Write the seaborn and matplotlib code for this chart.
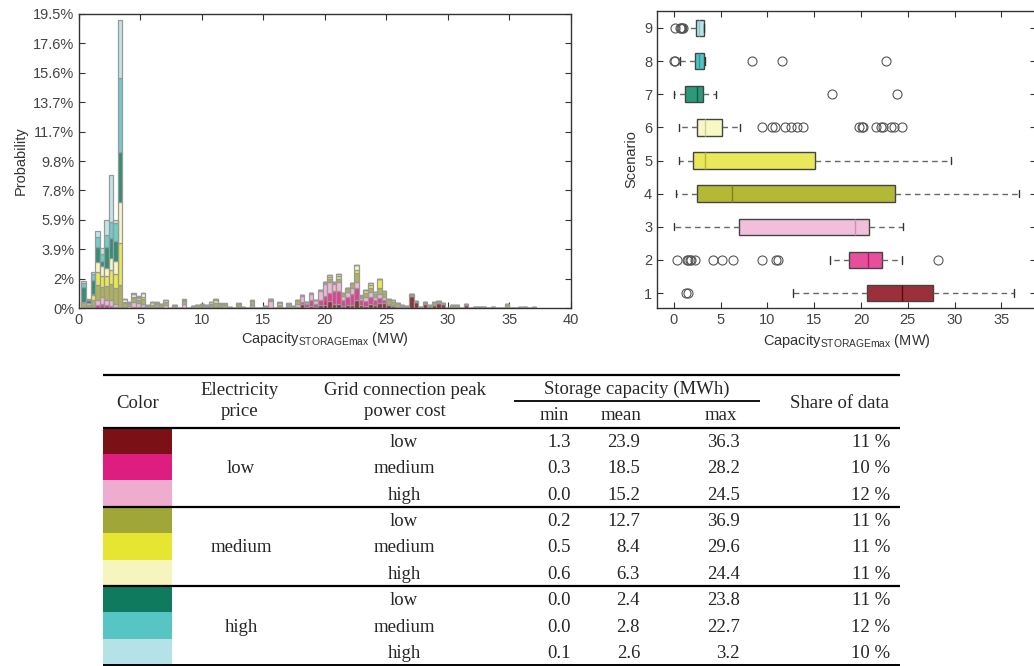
import numpy as np
import pandas as pd
import matplotlib.pyplot as plt
import matplotlib.patches as mpatches
import seaborn as sns

# scenarios 1..9: (electricity price, grid connection peak power cost)
scenarios = ['1', '2', '3', '4', '5', '6', '7', '8', '9']

# histogram: probability (%) per bin number, bins of 0.37 MW starting at 0.2 MW
hist_s1 = {2: .02, 3: .02, 34: .05, 37: .05, 40: .05, 43: .05, 45: .05, 46: .05, 47: .05,
           48: .30, 49: .10, 50: .15, 51: .10, 52: .20, 53: .20, 54: .45, 55: .30, 56: .30,
           57: .15, 58: .20, 59: .20, 60: .55, 61: .20, 62: .15, 63: .25, 64: .20, 65: .35,
           66: .35, 67: .20, 68: .15, 69: .10, 70: .10, 71: .05, 72: .80, 73: .40, 74: .05,
           75: .30, 76: .10, 77: .20, 78: .35, 79: .25, 81: .10, 82: .10, 84: .22, 86: .05,
           87: .05, 88: .05, 90: .05, 97: .05}
hist_s2 = {0: .03, 1: .02, 2: .04, 3: .15, 4: .30, 5: .20, 6: .12, 7: .05, 9: .02, 10: .02,
           11: .05, 12: .05, 13: .05, 15: .02, 16: .02, 17: .03, 18: .02, 25: .02, 29: .05,
           41: .02, 45: .10, 47: .05, 48: .10, 49: .15, 50: .35, 51: .15, 52: .35, 53: .60,
           54: .55, 55: .80, 56: .85, 57: .35, 58: .55, 59: .70, 60: .75, 61: .30, 62: .30,
           63: .45, 64: .30, 65: .30, 66: .20, 67: .10, 75: .05}
hist_s3 = {0: .05, 1: .05, 2: .10, 3: .35, 4: .40, 5: .35, 6: .40, 7: .20, 9: .05, 10: .10,
           11: .35, 12: .30, 13: .25, 14: .05, 15: .05, 16: .08, 17: .05, 18: .15, 20: .05,
           22: .25, 24: .05, 27: .05, 28: .10, 29: .10, 30: .05, 34: .05, 37: .15, 41: .45,
           47: .15, 48: .40, 49: .13, 50: .40, 51: .28, 52: .55, 53: .80, 54: .70, 55: .50,
           56: .60, 57: .30, 58: .30, 59: .45, 60: .45, 61: .15, 62: .25, 63: .35, 64: .20,
           65: .25, 66: .15, 68: .08}
hist_s4 = {0: .30, 1: .15, 2: .40, 3: 1.0, 4: .70, 5: .90, 6: 1.1, 7: 1.1, 8: 1.53, 9: .25,
           10: .15, 11: .25, 12: .15, 13: .30, 14: .10, 15: .15, 16: .20, 17: .20, 18: .20,
           20: .15, 22: .20, 24: .10, 25: .20, 26: .20, 27: .15, 28: .10, 29: .20, 30: .20,
           31: .25, 32: .10, 34: .15, 35: .10, 37: .25, 40: .10, 41: .10, 43: .15, 45: .15,
           46: .10, 47: .28, 48: .07, 50: .08, 52: .10, 53: .11, 54: .25, 55: .15, 56: .20,
           57: .18, 58: .26, 59: .29, 60: .60, 61: .12, 62: .30, 63: .30, 64: .20, 65: .40,
           66: .30, 67: .20, 68: .20, 69: .21, 70: .10, 71: .10, 72: .15, 73: .09, 74: .05,
           75: .08, 76: .10, 77: .18, 78: .10, 79: .06, 81: .10, 82: .10, 84: .05, 86: .05,
           87: .05, 88: .05, 90: .05, 93: .25, 96: .10, 97: .05, 99: .10}
hist_s5 = {1: .10, 2: .30, 3: .90, 4: .73, 5: .65, 6: .90, 7: .90, 8: 2.8, 9: .10, 10: .05,
           11: .10, 12: .15, 13: .15, 14: .05, 15: .15, 16: .05, 18: .06, 22: .05, 26: .05,
           28: .10, 29: .15, 34: .05, 43: .15, 54: .12, 56: .15, 60: .20, 62: .20, 63: .20,
           64: .19, 65: .60, 66: .10, 67: .10, 68: .10}
hist_s6 = {0: .05, 2: .10, 3: .60, 4: .66, 5: .55, 6: .80, 7: .90, 8: 2.72, 9: .15, 10: .08,
           11: .20, 12: .10, 13: .26, 15: .05, 16: .03, 18: .10, 22: .05, 28: .08, 29: .08,
           34: .05, 37: .10, 43: .05, 54: .12, 56: .13, 60: .30, 63: .09}
hist_s7 = {0: .95, 1: .20, 2: .90, 3: 1.0, 4: .30, 5: 1.4, 6: 1.3, 7: 1.3, 8: 3.32, 45: .05, 63: .05}
hist_s8 = {0: .27, 1: .06, 2: .40, 3: .70, 4: .50, 5: .80, 6: 1.1, 7: 1.2, 8: 4.86, 9: .05,
           11: .06, 12: .08, 22: .08, 30: .10, 31: .10, 61: .10}
hist_s9 = {0: .12, 1: .04, 2: .15, 3: .37, 4: .36, 5: 1.0, 6: 3.1, 7: .16, 8: 3.87}
hist_by_scenario = [hist_s1, hist_s2, hist_s3, hist_s4, hist_s5, hist_s6, hist_s7, hist_s8, hist_s9]

bin_start, bin_width, n_bins = 0.2, 0.37, 100

prob_ticks = [0, 1.95, 3.9, 5.85, 7.8, 9.75, 11.7, 13.65, 15.6, 17.55, 19.5]
prob_labels = ['0%', '2%', '3.9%', '5.9%', '7.8%', '9.8%', '11.7%', '13.7%', '15.6%', '17.6%', '19.5%']

# boxplot summary (MW) per scenario
box_lo = [12.7, 16.65, 0.0, 0.2, 0.5, 0.6, 0.0, 0.7, 1.2]
box_q1 = [20.65, 18.7, 6.95, 2.5, 2.05, 2.42, 1.2, 2.22, 2.35]
box_med = [24.4, 20.75, 19.35, 6.25, 3.3, 3.3, 2.45, 2.7, 2.7]
box_q3 = [27.7, 22.2, 20.85, 23.65, 15.1, 5.1, 3.15, 3.26, 3.2]
box_hi = [36.3, 24.4, 24.5, 36.9, 29.6, 7.05, 4.45, 3.3, 3.2]
box_fliers = [
    [1.3, 1.5],
    [0.3, 1.4, 1.55, 1.7, 1.85, 2.3, 4.2, 5.15, 6.3, 9.4, 10.9, 11.1, 28.2],
    [],
    [],
    [],
    [9.45, 10.5, 10.8, 11.85, 12.55, 13.2, 13.75, 19.8, 20.05, 20.2, 21.65, 22.15,
     22.35, 23.25, 23.5, 24.4],
    [16.9, 23.8],
    [0.0, 0.1, 8.4, 11.6, 22.7],
    [0.1, 0.65, 0.75, 0.85, 0.95],
]

# table
elec_price = ['low', 'low', 'low', 'medium', 'medium', 'medium', 'high', 'high', 'high']
grid_cost = ['low', 'medium', 'high'] * 3
cap_min = ['1.3', '0.3', '0.0', '0.2', '0.5', '0.6', '0.0', '0.0', '0.1']
cap_mean = ['23.9', '18.5', '15.2', '12.7', '8.4', '6.3', '2.4', '2.8', '2.6']
cap_max = ['36.3', '28.2', '24.5', '36.9', '29.6', '24.4', '23.8', '22.7', '3.2']
share = ['11 %', '10 %', '12 %', '11 %', '11 %', '11 %', '11 %', '12 %', '10 %']

# colours
table_colors = ['#7b1116', '#dd1e80', '#eeaccf', '#a0a638', '#e6e632', '#f5f5bd',
                '#0f7a5d', '#56c5c4', '#b5e2e6']
box_colors = ['#9b2f3a', '#e64f9c', '#f2bfda', '#b3b835', '#e8e85a', '#f8f8c4',
              '#2a9a7a', '#52c3c3', '#b8e4e8']
median_colors = ['#5c0a10', '#b5166a', '#d08fb2', '#7e8320', '#b8b82a', '#cfcf98',
                 '#0b5e47', '#2a9a9a', '#8cc4cc']

sns.set_style('ticks')
plt.rcParams['font.family'] = ['Liberation Sans', 'DejaVu Sans']
plt.rcParams['mathtext.fontset'] = 'custom'
plt.rcParams['mathtext.rm'] = 'Liberation Sans'

fig = plt.figure(figsize=(10.34, 6.66), dpi=100)

xlabel = r'Capacity$_{\mathrm{STORAGEmax}}$ (MW)'
grey = '#444444'


def style_axes(ax):
    for sp in ax.spines.values():
        sp.set_visible(True)
        sp.set_color('#333333')
        sp.set_linewidth(1.0)
    ax.tick_params(direction='in', top=True, right=True, length=4, width=0.8,
                   color='#333333', labelcolor=grey, labelsize=10.5)


# ---- histogram ----
ax1 = fig.add_axes([0.0764, 0.5375, 0.4756, 0.4415])
hist_rows = []
for s, d in zip(scenarios, hist_by_scenario):
    for b, p in d.items():
        hist_rows.append((s, bin_start + bin_width * (b + 0.5), p))
hist_df = pd.DataFrame(hist_rows, columns=['scenario', 'capacity', 'prob'])

sns.histplot(data=hist_df, x='capacity', weights='prob', hue='scenario',
             hue_order=scenarios[::-1], palette=dict(zip(scenarios, table_colors)),
             binwidth=bin_width, binrange=(bin_start, bin_start + n_bins * bin_width),
             multiple='stack', edgecolor='#999999', linewidth=0.9,
             alpha=0.85, legend=False, ax=ax1)
ax1.set_xlim(0, 40)
ax1.set_ylim(0, 19.5)
ax1.set_xticks(range(0, 41, 5))
ax1.set_yticks(prob_ticks)
ax1.set_yticklabels(prob_labels)
ax1.set_xlabel(xlabel, fontsize=10.5, color='#333333', labelpad=2)
ax1.set_ylabel('Probability', fontsize=10.5, color='#333333')
style_axes(ax1)

# ---- boxplot ----
ax2 = fig.add_axes([0.6354, 0.5375, 0.3666, 0.446])
box_rows = []
for s, lo, q1, med, q3, hi, fl in zip(scenarios, box_lo, box_q1, box_med, box_q3, box_hi, box_fliers):
    sample = list(fl) + [lo, hi] + [q1] * 40 + [med] * 40 + [q3] * 40
    box_rows += [(s, v) for v in sample]
box_df = pd.DataFrame(box_rows, columns=['scenario', 'capacity'])
order = scenarios[::-1]

sns.boxplot(data=box_df, x='capacity', y='scenario', order=order, hue='scenario',
            hue_order=order, palette=dict(zip(scenarios, box_colors)), saturation=1,
            width=0.5, whis=1.5, linecolor='#444444', linewidth=1.0, legend=False,
            whiskerprops=dict(linestyle=(0, (4, 3)), color='#666666'),
            capprops=dict(color='#333333'),
            flierprops=dict(marker='o', markerfacecolor='none', markeredgecolor='#555555',
                            markersize=6.5, markeredgewidth=0.8),
            capwidths=0.22, ax=ax2)

for c in ax2.containers:
    if not hasattr(c, 'medians'):
        continue
    for m in c.medians:
        pos = int(round(np.mean(m.get_ydata())))
        m.set_color(median_colors[scenarios.index(order[pos])])
        m.set_linewidth(1.0)

ax2.set_xlim(-1.8, 38.7)
ax2.set_ylim(8.45, -0.51)
ax2.set_xticks(range(0, 36, 5))
ax2.set_xlabel(xlabel, fontsize=10.5, color='#333333')
ax2.set_ylabel('Scenario', fontsize=10.5, color='#333333')
style_axes(ax2)

# ---- table ----
tab = fig.add_axes([0, 0, 1, 1], zorder=-1)
tab.set_xlim(0, 1034)
tab.set_ylim(666, 0)
tab.axis('off')

serif = ['Liberation Serif', 'DejaVu Serif']
fs = 13.5
row_top, row_h = 427.5, 26.4
left, right = 103, 900

tab.text(138, 403, 'Color', ha='center', va='center', family=serif, fontsize=fs)
tab.text(240, 401, 'Electricity\nprice', ha='center', va='center', family=serif,
         fontsize=fs, linespacing=1.3)
tab.text(405, 401, 'Grid connection peak\npower cost', ha='center', va='center',
         family=serif, fontsize=fs, linespacing=1.3)
tab.text(637, 389, 'Storage capacity (MWh)', ha='center', va='center', family=serif, fontsize=fs)
tab.text(554, 416, 'min', ha='center', va='center', family=serif, fontsize=fs)
tab.text(621, 416, 'mean', ha='center', va='center', family=serif, fontsize=fs)
tab.text(721, 416, 'max', ha='center', va='center', family=serif, fontsize=fs)
tab.text(840, 403, 'Share of data', ha='center', va='center', family=serif, fontsize=fs)

for i in range(9):
    y0 = row_top + i * row_h
    yc = y0 + row_h / 2 + 1.5
    tab.add_patch(mpatches.Rectangle((left, y0), 69, row_h, facecolor=table_colors[i],
                                     edgecolor='none'))
    if i % 3 == 1:
        tab.text(241, yc, elec_price[i], ha='center', va='center', family=serif, fontsize=fs)
    tab.text(404, yc, grid_cost[i], ha='center', va='center', family=serif, fontsize=fs)
    tab.text(571, yc, cap_min[i], ha='right', va='center', family=serif, fontsize=fs)
    tab.text(640, yc, cap_mean[i], ha='right', va='center', family=serif, fontsize=fs)
    tab.text(740, yc, cap_max[i], ha='right', va='center', family=serif, fontsize=fs)
    tab.text(890, yc, share[i], ha='right', va='center', family=serif, fontsize=fs)

for y, lw in [(375, 1.6), (row_top, 1.6), (row_top + 3 * row_h, 1.6),
              (row_top + 6 * row_h, 1.6), (665, 1.4)]:
    tab.plot([left, right], [y, y], color='black', lw=lw, solid_capstyle='butt')
tab.plot([514, 760], [401, 401], color='black', lw=1.3, solid_capstyle='butt')

plt.savefig('out.png', dpi=100)
